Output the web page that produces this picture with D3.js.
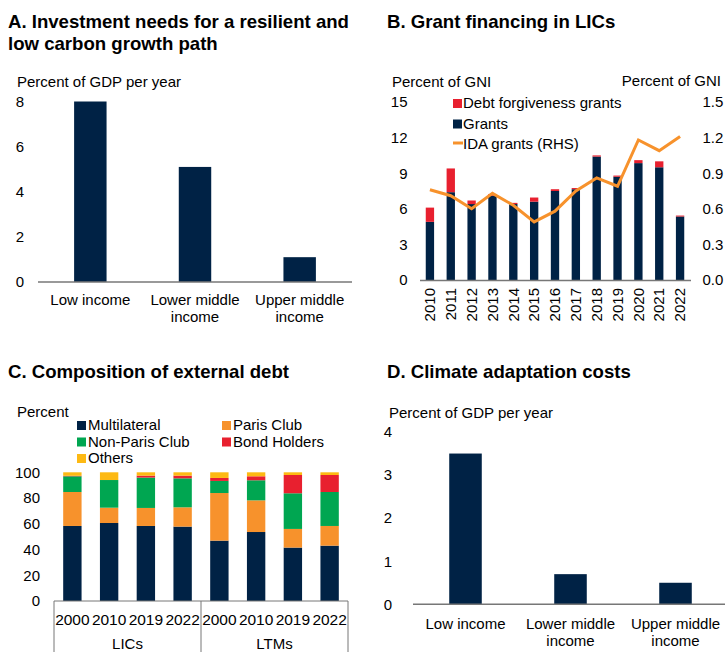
<!DOCTYPE html>
<html>
<head>
<meta charset="utf-8">
<script src="https://cdn.jsdelivr.net/npm/d3@7"></script>
<style>
  body { margin: 0; background: #fff; }
  svg { font-family: "Liberation Sans", Arial, sans-serif; }
  .title { font-size: 18.6px; font-weight: bold; fill: #000; }
  .lbl { font-size: 15px; fill: #000; }
  .tick text { font-size: 15px; fill: #000; }
</style>
</head>
<body>
<div id="chart"></div>
<script>
// Panel A: investment needs
var incomeGroups = [["Low income"], ["Lower middle", "income"], ["Upper middle", "income"]];
var investNeeds = [8.0, 5.1, 1.1];

// Panel B: grant financing in LICs
var grantYears = ["2010", "2011", "2012", "2013", "2014", "2015", "2016", "2017", "2018", "2019", "2020", "2021", "2022"];
var grants = [4.9, 7.4, 6.4, 7.1, 6.4, 6.6, 7.5, 7.65, 10.4, 8.7, 9.85, 9.5, 5.35];
var debtForgiveness = [1.2, 2.0, 0.3, 0.15, 0.1, 0.35, 0.15, 0.1, 0.1, 0.1, 0.25, 0.5, 0.08];
var idaGrants = [0.76, 0.71, 0.60, 0.73, 0.63, 0.49, 0.58, 0.75, 0.86, 0.79, 1.18, 1.09, 1.21];

// Panel C: composition of external debt
var debtGroups = ["LICs", "LTMs"];
var debtYears = ["2000", "2010", "2019", "2022"];
var multilateral = [58.3, 60.6, 58.3, 57.8, 46.9, 53.6, 41.5, 43.0];
var parisClub = [26.4, 11.9, 14.0, 15.0, 37.0, 24.6, 14.5, 15.3];
var nonParisClub = [12.2, 21.5, 23.6, 22.5, 9.4, 15.6, 27.7, 26.4];
var bondHolders = [0.4, 0.0, 1.5, 2.1, 2.3, 3.1, 14.2, 13.2];
var others = [2.7, 6.0, 2.6, 2.6, 4.4, 3.1, 2.1, 2.1];
var debtSeries = ["Multilateral", "Paris Club", "Non-Paris Club", "Bond Holders", "Others"];

// Panel D: climate adaptation costs
var adaptCosts = [3.5, 0.7, 0.5];

var navy = "#002245", red = "#e8202f", orange = "#f7922c", green = "#00a651", yellow = "#fdb913";
var axisGrey = "#777";

var svg = d3.select("#chart").append("svg")
    .attr("width", 725)
    .attr("height", 652);

function title(x, y, lines) {
    var t = svg.append("text").attr("class", "title").attr("x", x).attr("y", y);
    lines.forEach(function(l, i) {
        t.append("tspan").attr("x", x).attr("dy", i ? 22 : 0).text(l);
    });
}

function label(x, y, s, anchor) {
    return svg.append("text").attr("class", "lbl").attr("x", x).attr("y", y)
        .attr("text-anchor", anchor || "start").text(s);
}

function leftAxis(y, x, pad, ticks, fmt) {
    var g = svg.append("g").attr("transform", "translate(" + x + ",0)")
        .call(d3.axisLeft(y).tickValues(ticks).tickSize(0).tickPadding(pad).tickFormat(fmt || d3.format("d")));
    g.select(".domain").remove();
    return g;
}

// Simple bar panel with two-line category labels (A and D)
function simpleBars(values, xRange, yScale, ticks, tickX, pad, line1Y) {
    var x = d3.scaleBand().domain(d3.range(values.length)).range(xRange)
        .paddingInner(0.69).paddingOuter(0.345);
    leftAxis(yScale, tickX, pad, ticks);
    svg.append("g").selectAll("rect").data(values).join("rect")
        .attr("x", function(d, i) { return x(i); })
        .attr("y", function(d) { return yScale(d); })
        .attr("width", x.bandwidth())
        .attr("height", function(d) { return yScale(0) - yScale(d); })
        .attr("fill", navy);
    svg.append("line")
        .attr("x1", xRange[0]).attr("x2", xRange[1])
        .attr("y1", yScale(0)).attr("y2", yScale(0))
        .attr("stroke", axisGrey).attr("stroke-width", 1.5);
    incomeGroups.forEach(function(lines, i) {
        var t = svg.append("text").attr("class", "lbl").attr("text-anchor", "middle")
            .attr("x", x(i) + x.bandwidth() / 2).attr("y", line1Y);
        lines.forEach(function(l, j) {
            t.append("tspan").attr("x", x(i) + x.bandwidth() / 2).attr("dy", j ? 17 : 0).text(l);
        });
    });
}

/* ---------- Panel A ---------- */
title(8, 28, ["A. Investment needs for a resilient and", "low carbon growth path"]);
label(17, 87, "Percent of GDP per year");
var yA = d3.scaleLinear().domain([0, 8]).range([282, 101.5]);
simpleBars(investNeeds, [38, 352], yA, [0, 2, 4, 6, 8], 38, 14, 305);

/* ---------- Panel B ---------- */
title(387, 28, ["B. Grant financing in LICs"]);
label(392, 87, "Percent of GNI");
label(721, 86, "Percent of GNI", "end");
var xB = d3.scaleBand().domain(grantYears).range([419.5, 690.5]).paddingInner(0.6).paddingOuter(0.3);
var yB = d3.scaleLinear().domain([0, 15]).range([280, 102]);
var yB2 = d3.scaleLinear().domain([0, 1.5]).range([280, 102]);
leftAxis(yB, 419.5, 12, [0, 3, 6, 9, 12, 15]);
var rB = svg.append("g").attr("transform", "translate(690.5,0)")
    .call(d3.axisRight(yB2).tickValues([0, 0.3, 0.6, 0.9, 1.2, 1.5]).tickSize(0).tickPadding(12).tickFormat(d3.format(".1f")));
rB.select(".domain").remove();

svg.append("g").selectAll("rect").data(grantYears).join("rect")
    .attr("x", function(d) { return xB(d); })
    .attr("y", function(d, i) { return yB(grants[i]); })
    .attr("width", xB.bandwidth())
    .attr("height", function(d, i) { return yB(0) - yB(grants[i]); })
    .attr("fill", navy);
svg.append("g").selectAll("rect").data(grantYears).join("rect")
    .attr("x", function(d) { return xB(d); })
    .attr("y", function(d, i) { return yB(grants[i] + debtForgiveness[i]); })
    .attr("width", xB.bandwidth())
    .attr("height", function(d, i) { return yB(grants[i]) - yB(grants[i] + debtForgiveness[i]); })
    .attr("fill", red);

var bx = svg.append("g").attr("transform", "translate(0,280)")
    .call(d3.axisBottom(xB).tickSize(0).tickSizeOuter(0));
bx.select(".domain").attr("stroke", axisGrey).attr("stroke-width", 1.5);
bx.selectAll(".tick text")
    .attr("transform", "rotate(-90)")
    .attr("text-anchor", "end")
    .attr("x", -8).attr("y", 0).attr("dy", "0.35em");

svg.append("path")
    .datum(idaGrants)
    .attr("fill", "none")
    .attr("stroke", orange)
    .attr("stroke-width", 3)
    .attr("d", d3.line()
        .x(function(d, i) { return xB(grantYears[i]) + xB.bandwidth() / 2; })
        .y(function(d) { return yB2(d); }));

// legend B
svg.append("rect").attr("x", 453).attr("y", 99).attr("width", 9).attr("height", 9).attr("fill", red);
label(463, 108, "Debt forgiveness grants");
svg.append("rect").attr("x", 453).attr("y", 119.5).attr("width", 9).attr("height", 9).attr("fill", navy);
label(463, 128.5, "Grants");
svg.append("line").attr("x1", 453).attr("x2", 463).attr("y1", 143).attr("y2", 143)
    .attr("stroke", orange).attr("stroke-width", 3);
label(463, 149, "IDA grants (RHS)");

/* ---------- Panel C ---------- */
title(8, 378, ["C. Composition of external debt"]);
label(17, 417, "Percent");
var cKeys = [];
debtGroups.forEach(function(g) { debtYears.forEach(function(y) { cKeys.push(g + " " + y); }); });
var cRows = cKeys.map(function(k, i) {
    return { key: k, "Multilateral": multilateral[i], "Paris Club": parisClub[i],
             "Non-Paris Club": nonParisClub[i], "Bond Holders": bondHolders[i], "Others": others[i] };
});
var cColor = d3.scaleOrdinal().domain(debtSeries).range([navy, orange, green, red, yellow]);
var xC = d3.scaleBand().domain(cKeys).range([54, 348]).paddingInner(0.5).paddingOuter(0.25);
var yC = d3.scaleLinear().domain([0, 100]).range([601, 472.3]);
leftAxis(yC, 54, 14, [0, 20, 40, 60, 80, 100]);

var stacked = d3.stack().keys(debtSeries)(cRows);
svg.append("g").selectAll("g").data(stacked).join("g")
    .attr("fill", function(s) { return cColor(s.key); })
    .selectAll("rect").data(function(s) { return s; }).join("rect")
    .attr("x", function(d) { return xC(d.data.key); })
    .attr("y", function(d) { return yC(d[1]); })
    .attr("width", xC.bandwidth())
    .attr("height", function(d) { return yC(d[0]) - yC(d[1]); });

// two-level category axis
svg.append("g").selectAll("text").data(cKeys).join("text")
    .attr("class", "lbl").attr("text-anchor", "middle")
    .style("font-size", "15.5px")
    .attr("x", function(d) { return xC(d) + xC.bandwidth() / 2; })
    .attr("y", 625)
    .text(function(d) { return d.split(" ")[1]; });
var cLeft = 54, cRight = 348, cMid = (cLeft + cRight) / 2;
svg.append("line").attr("x1", cLeft).attr("x2", cRight).attr("y1", 601).attr("y2", 601)
    .attr("stroke", axisGrey).attr("stroke-width", 1);
[cLeft, cMid, cRight].forEach(function(x) {
    svg.append("line").attr("x1", x).attr("x2", x).attr("y1", 601).attr("y2", 652)
        .attr("stroke", axisGrey).attr("stroke-width", 1);
});
debtGroups.forEach(function(g, i) {
    label(i ? (cMid + cRight) / 2 : (cLeft + cMid) / 2, 649, g, "middle");
});

// legend C
var legC = [
    { k: "Multilateral", x: 77, y: 421 }, { k: "Paris Club", x: 222, y: 421 },
    { k: "Non-Paris Club", x: 77, y: 437.5 }, { k: "Bond Holders", x: 222, y: 437.5 },
    { k: "Others", x: 77, y: 454 }
];
legC.forEach(function(d) {
    svg.append("rect").attr("x", d.x).attr("y", d.y).attr("width", 9).attr("height", 9).attr("fill", cColor(d.k));
    label(d.x + 11, d.y + 9, d.k);
});

/* ---------- Panel D ---------- */
title(387, 378, ["D. Climate adaptation costs"]);
label(389, 418, "Percent of GDP per year");
var yD = d3.scaleLinear().domain([0, 4]).range([604.3, 432]);
simpleBars(adaptCosts, [413, 728], yD, [0, 1, 2, 3, 4], 413, 21, 629);
</script>
</body>
</html>
